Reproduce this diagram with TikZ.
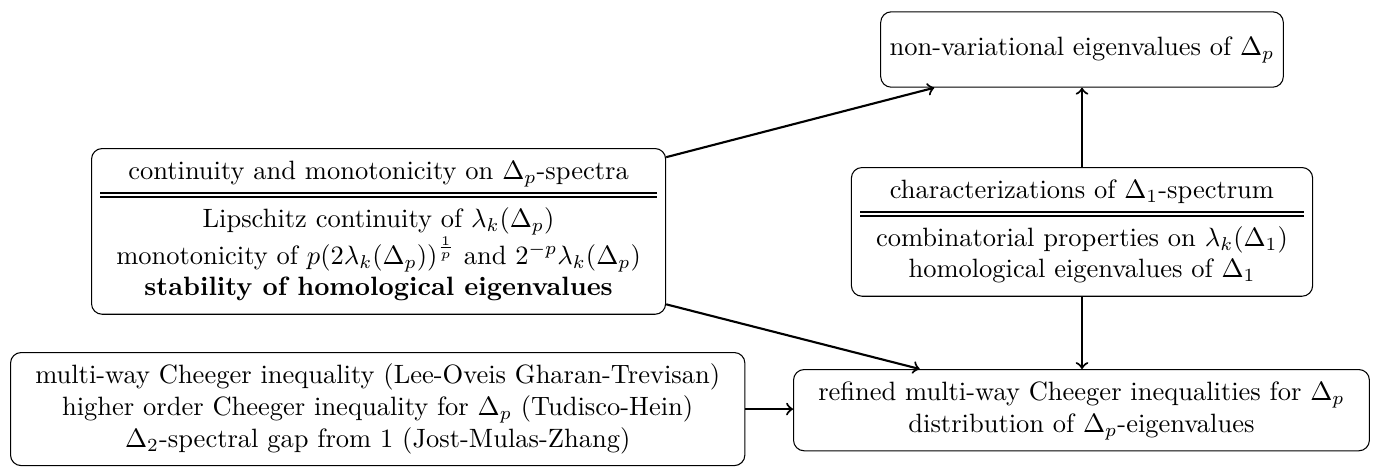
\documentclass[tikz,border=0pt]{standalone}
\usepackage{amsmath}
\setlength{\arrayrulewidth}{0.7pt}
\setlength{\doublerulesep}{1.6pt}
\begin{document}
\begin{tikzpicture}[x=0.37736pt,y=-0.37736pt,
  box/.style={draw,line width=0.4pt,rounded corners=4pt,inner sep=0.3333em},
  arr/.style={->,thick}]
\useasboundingbox (0,0) rectangle (1379,468);
\node[box,minimum height=1cm] (A) at (1082,49.5) {non-variational eigenvalues of $\Delta_p$};
\node[box,anchor=north west] (B) at (91,148) {\begin{tabular}{c}
continuity and monotonicity on $\Delta_p$-spectra\\[1pt] \hline\hline
\rule{0pt}{11pt}Lipschitz continuity of $\lambda_k(\Delta_p)$\\
monotonicity of $p(2\lambda_k(\Delta_p))^{\frac{1}{p}}$ and $2^{-p}\lambda_k(\Delta_p)$\\
\textbf{stability of homological eigenvalues}
\end{tabular}};
\node[box,anchor=north] (C) at (1082,167) {\begin{tabular}{c}
characterizations of $\Delta_1$-spectrum\\[1pt] \hline\hline
\rule{0pt}{11pt}combinatorial properties on $\lambda_k(\Delta_1)$\\
homological eigenvalues of $\Delta_1$
\end{tabular}};
\node[box,anchor=north west] (D) at (10,352) {\begin{tabular}{c}
multi-way Cheeger inequality (Lee-Oveis Gharan-Trevisan)\\
higher order Cheeger inequality for $\Delta_p$ (Tudisco-Hein)\\
$\Delta_2$-spectral gap from 1 (Jost-Mulas-Zhang)
\end{tabular}};
\node[box,anchor=north west] (E) at (793,369) {\begin{tabular}{c}
refined multi-way Cheeger inequalities for $\Delta_p$\\
distribution of $\Delta_p$-eigenvalues
\end{tabular}};
\draw[arr] (B) -- (A);
\draw[arr] (B) -- (E);
\draw[arr] (C) -- (A);
\draw[arr] (C.south) -- (C.south |- E.north);
\draw[arr] (D) -- (D -| E.west);
\end{tikzpicture}
\end{document}
